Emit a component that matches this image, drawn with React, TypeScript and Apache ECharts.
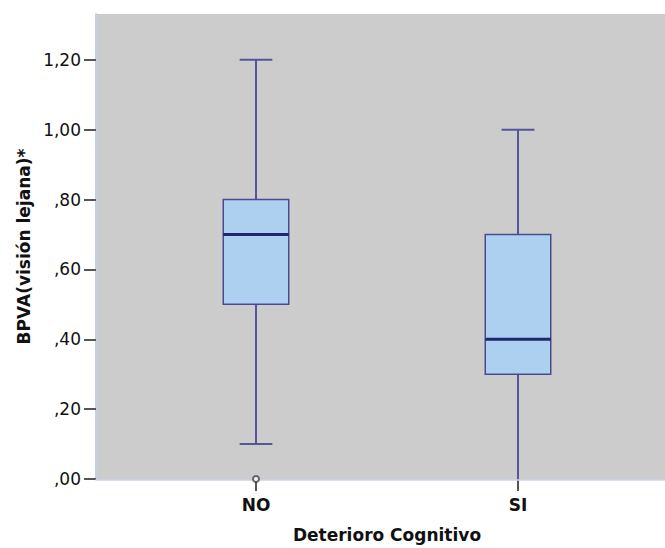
import React, { useEffect, useRef } from "react";
import * as echarts from "echarts";

const categories = ["NO", "SI"];
const whiskerLow = [0.1, 0.0];
const q1 = [0.5, 0.3];
const median = [0.7, 0.4];
const q3 = [0.8, 0.7];
const whiskerHigh = [1.2, 1.0];
const outliers: [number, number][] = [[0, 0.0]];
const yTicks = [0, 0.2, 0.4, 0.6, 0.8, 1.0, 1.2];
const yMax = 1.331;

const W = 665;
const H = 548;
const plotLeft = 96;
const plotTop = 14;
const plotBottom = 480;
const gridLeft = 125;
const gridRight = 16;
const FONT = "DejaVu Sans";

const fmt = (v: number) => {
  const s = v.toFixed(2).replace(".", ",");
  return s.startsWith("0") ? s.slice(1) : s;
};

export default function App() {
  const ref = useRef<HTMLDivElement>(null);
  useEffect(() => {
    const chart = echarts.init(ref.current!, null, { renderer: "svg" });
    const boxData = categories.map((_, i) => [i, whiskerLow[i], q1[i], median[i], q3[i], whiskerHigh[i]]);
    chart.setOption({
      animation: false,
      grid: [
        { left: gridLeft, right: gridRight, top: plotTop, bottom: H - plotBottom, containLabel: false },
        {
          left: plotLeft,
          right: 0,
          top: plotTop,
          bottom: H - plotBottom,
          containLabel: false,
          show: true,
          backgroundColor: "#cccccc",
          borderWidth: 0,
          z: -10,
        },
      ],
      xAxis: [
        {
          type: "category",
          gridIndex: 0,
          data: categories,
          axisLine: { show: false },
          axisTick: { show: true, alignWithLabel: true, length: 12, lineStyle: { color: "#555", width: 2 } },
          axisLabel: { margin: 17, color: "#111", fontFamily: FONT, fontWeight: "bold", fontSize: 17 },
          splitLine: { show: false },
          name: "Deterioro Cognitivo",
          nameLocation: "middle",
          nameGap: 47,
          nameTextStyle: { color: "#111", fontFamily: FONT, fontWeight: "bold", fontSize: 17 },
        },
        {
          type: "value",
          gridIndex: 1,
          min: 0,
          max: 1,
          z: 10,
          axisLine: { show: true, lineStyle: { color: "#c8d4e8", width: 1.5 } },
          axisTick: { show: false },
          axisLabel: { show: false },
          splitLine: { show: false },
        },
      ],
      yAxis: [
        {
          type: "value",
          gridIndex: 0,
          min: 0,
          max: yMax,
          offset: gridLeft - plotLeft,
          axisLine: { show: true, lineStyle: { color: "#c4d0e2", width: 2 } },
          axisTick: { show: true, length: 12, customValues: yTicks, lineStyle: { color: "#555", width: 2 } },
          axisLabel: {
            customValues: yTicks,
            margin: 15,
            color: "#111",
            fontFamily: FONT,
            fontSize: 17,
            formatter: (v: number) => fmt(v),
          },
          splitLine: { show: false },
          name: "BPVA(visión lejana)*",
          nameLocation: "middle",
          nameGap: 64,
          nameRotate: 90,
          nameTextStyle: { color: "#111", fontFamily: FONT, fontWeight: "bold", fontSize: 17 },
        },
        {
          type: "value",
          gridIndex: 1,
          min: 0,
          max: 1,
          show: false,
        },
      ],
      series: [
        {
          type: "custom",
          xAxisIndex: 0,
          yAxisIndex: 0,
          z: 2,
          clip: false,
          encode: { x: 0, y: [1, 2, 3, 4, 5] },
          data: boxData,
          renderItem: (params: any, api: any) => {
            const i = api.value(0);
            const pLo = api.coord([i, api.value(1)]);
            const pQ1 = api.coord([i, api.value(2)]);
            const pMed = api.coord([i, api.value(3)]);
            const pQ3 = api.coord([i, api.value(4)]);
            const pHi = api.coord([i, api.value(5)]);
            const bw = api.size([1, 0])[0] * 0.25;
            const x = pMed[0];
            const wStyle = { stroke: "#55559a", lineWidth: 2 };
            const children: any[] = [
              { type: "line", shape: { x1: x, y1: pHi[1], x2: x, y2: pQ3[1] }, style: wStyle },
              { type: "line", shape: { x1: x - bw / 4, y1: pHi[1], x2: x + bw / 4, y2: pHi[1] }, style: wStyle },
              { type: "line", shape: { x1: x, y1: pLo[1], x2: x, y2: pQ1[1] }, style: wStyle },
            ];
            // the lower cap is hidden behind the axis line when the whisker reaches the axis minimum
            if (api.value(1) > 0) {
              children.push({
                type: "line",
                shape: { x1: x - bw / 4, y1: pLo[1], x2: x + bw / 4, y2: pLo[1] },
                style: wStyle,
              });
            }
            children.push(
              {
                type: "rect",
                shape: { x: x - bw / 2, y: pQ3[1], width: bw, height: pQ1[1] - pQ3[1] },
                style: { fill: "#aed0f0", stroke: "#4a4a90", lineWidth: 1.5 },
              },
              {
                type: "line",
                shape: { x1: x - bw / 2, y1: pMed[1], x2: x + bw / 2, y2: pMed[1] },
                style: { stroke: "#1f276d", lineWidth: 3 },
              }
            );
            return { type: "group", children };
          },
        },
        {
          type: "scatter",
          xAxisIndex: 0,
          yAxisIndex: 0,
          z: 12,
          clip: false,
          data: outliers,
          symbol: "emptyCircle",
          symbolSize: 6,
          itemStyle: { color: "#444", borderWidth: 1.2 },
        },
      ],
    });
    return () => chart.dispose();
  }, []);
  return <div ref={ref} style={{ width: W, height: H, position: "absolute", left: 0, top: 0 }} />;
}
